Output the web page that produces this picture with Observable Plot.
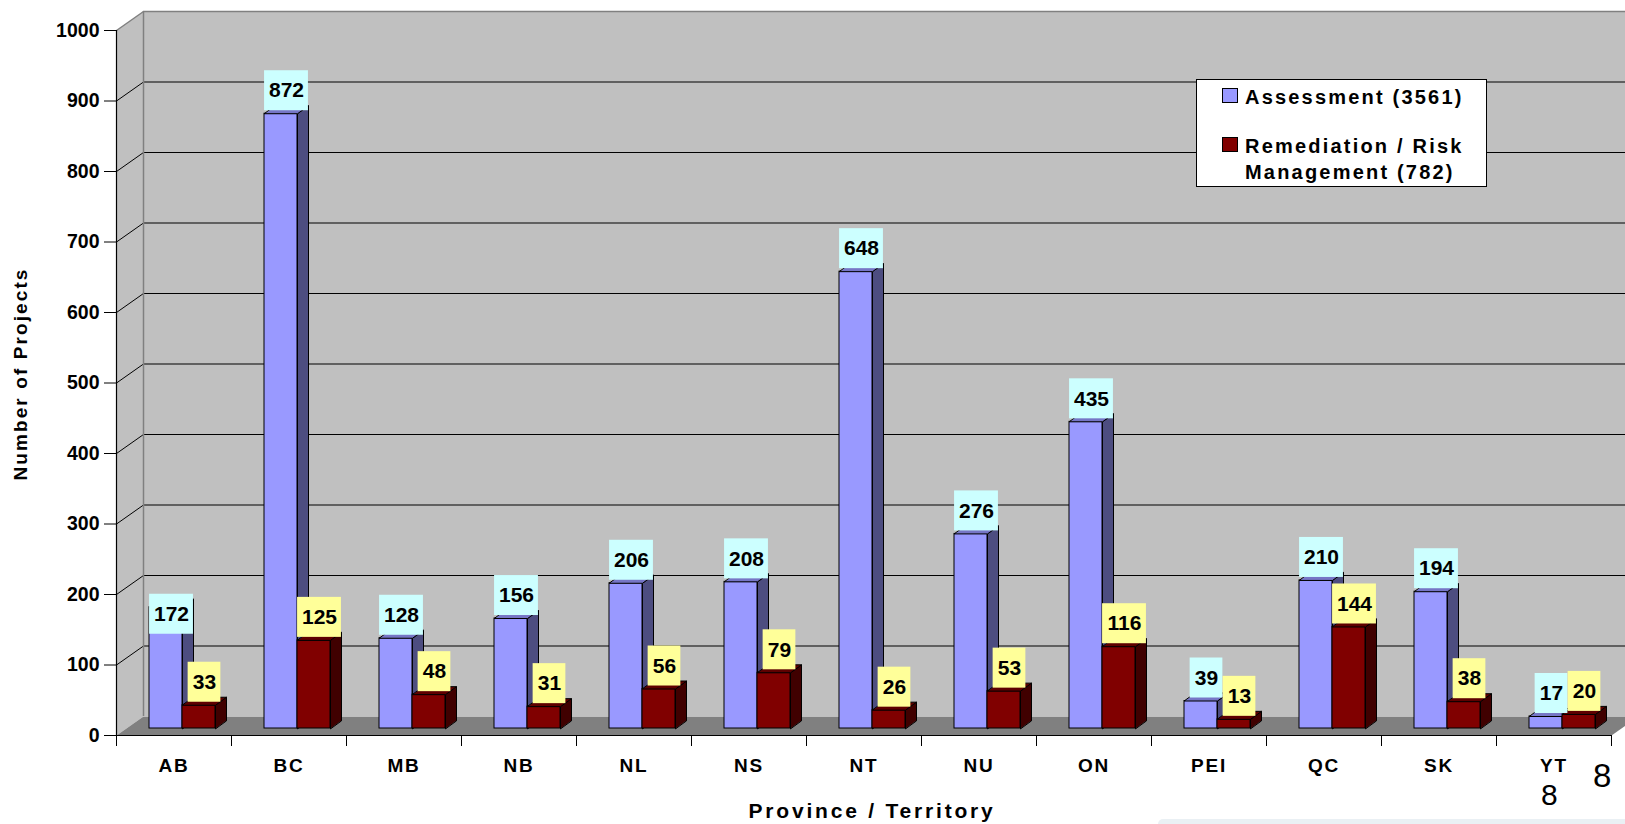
<!DOCTYPE html>
<html>
<head>
<meta charset="utf-8">
<script src="https://cdn.jsdelivr.net/npm/d3@7"></script>
<script src="https://cdn.jsdelivr.net/npm/@observablehq/plot@0.6"></script>
<style>
  html, body { margin: 0; padding: 0; background: #ffffff; }
  #wrap { position: relative; width: 1625px; height: 824px; overflow: hidden; font-family: Arial, "Liberation Sans", sans-serif; }
  #wrap svg { position: absolute; left: 0; top: 0; }
  .legend { position: absolute; left: 1196px; top: 79px; width: 289px; height: 106px; background: #fff; border: 1.5px solid #000; }
  .legend .sw { position: absolute; width: 16px; height: 15px; box-sizing: border-box; border: 1px solid #000; }
  .legend .lt { position: absolute; left: 48px; font-size: 20px; line-height: 20px; font-weight: bold; letter-spacing: 2.2px; white-space: nowrap; color: #000; }
  .artifact { position: absolute; font-weight: normal; line-height: 1; color: #000; }
  .band { position: absolute; left: 1158px; top: 819px; width: 467px; height: 5px; background: #eaf0f4; border-top-left-radius: 6px; }
</style>
</head>
<body>
<div id="wrap"></div>
<script>
// ---------------- data ----------------
const categories  = ["AB", "BC", "MB", "NB", "NL", "NS", "NT", "NU", "ON", "PEI", "QC", "SK", "YT"];
const assessment  = [172, 872, 128, 156, 206, 208, 648, 276, 435, 39, 210, 194, 17];
const remediation = [33, 125, 48, 31, 56, 79, 26, 53, 116, 13, 144, 38, 20];
const seriesNames = ["Assessment (3561)", "Remediation / Risk Management (782)"];
const yTicks      = [0, 100, 200, 300, 400, 500, 600, 700, 800, 900, 1000];
const yTitle      = "Number of Projects";
const xTitle      = "Province / Territory";

// ---------------- layout ----------------
const W = 1625, H = 824, ML = 116, MR = 14, MT = 30, MB = 89;
const KX = (W - ML - MR) / categories.length;   // px per category
const KY = (H - MT - MB) / 1000;                // px per unit
const ux = p => p / KX, uy = p => p / KY;       // pixel offsets -> data units
const DEPTH_X = 27, DEPTH_Y = 19;               // wall depth
const BAR_W = 33, SIDE_X = 11, SIDE_Y = 8, LIFT = 7, LABEL_GAP = 3, LABEL_H = 40;
const FONT = "Arial, 'Liberation Sans', sans-serif";

const series = [
  {name: seriesNames[0], key: "A", values: assessment,  off: 33, front: "#9999FF", side: "#4D4D80", top: "#7676C6", label: "#CCFFFF", center: 55},
  {name: seriesNames[1], key: "R", values: remediation, off: 66, front: "#800000", side: "#400000", top: "#5E0000", label: "#FFFF99", center: 88}
];
// the AB assessment label sits lower than the others in the source
const labelNudge = {"AB|A": -30};

function bars(s) {
  return s.values.map((v, i) => ({
    i, v, cat: categories[i], key: s.key,
    x1: i + ux(s.off), x2: i + ux(s.off + BAR_W)
  }));
}
function sideFaces(s) {
  return bars(s).flatMap(b => [
    [b.x2, 0], [b.x2, b.v], [b.x2 + ux(SIDE_X), b.v + uy(SIDE_Y)], [b.x2 + ux(SIDE_X), uy(SIDE_Y)]
  ].map(([x, y]) => ({id: b.i, x, y})));
}
function topFaces(s) {
  return bars(s).flatMap(b => [
    [b.x1, b.v], [b.x2, b.v], [b.x2 + ux(SIDE_X), b.v + uy(SIDE_Y)], [b.x1 + ux(SIDE_X), b.v + uy(SIDE_Y)]
  ].map(([x, y]) => ({id: b.i, x, y})));
}
function labels(s) {
  return bars(s).map(b => {
    const digits = String(b.v).length;
    const w = digits * 11.12 + 10.5;
    const nudge = labelNudge[b.cat + "|" + b.key] || 0;
    const base = b.v + uy(LABEL_GAP + nudge);
    return {
      text: String(b.v),
      x1: b.i + ux(s.center - w / 2), x2: b.i + ux(s.center + w / 2),
      xc: b.i + ux(s.center),
      y1: base, y2: base + uy(LABEL_H), yc: base + uy(LABEL_H / 2)
    };
  });
}

const n = categories.length;
const DX = ux(DEPTH_X), DY = uy(DEPTH_Y);
const leftWall = [[0, 0], [0, 1000], [DX, 1000 + DY], [DX, DY]].map(([x, y]) => ({x, y}));
const floor = [[0, 0], [n, 0], [n + DX, DY], [DX, DY]].map(([x, y]) => ({x, y}));
const innerTicks = yTicks.filter(t => t > 0 && t < 1000);

const marks = [
  // walls and floor
  Plot.rect([0], {x1: () => 0, x2: () => n + 1, y1: () => 0, y2: () => 1000, dx: DEPTH_X, dy: -DEPTH_Y, fill: "#C0C0C0"}),
  Plot.line(leftWall, {x: "x", y: "y", fill: "#C0C0C0", stroke: "none", curve: "linear-closed"}),
  Plot.line(floor, {x: "x", y: "y", fill: "#808080", stroke: "none", curve: "linear-closed"}),
  // gridlines: back wall and left wall
  Plot.ruleY(innerTicks, {x1: () => 0, x2: () => n + 1, dx: DEPTH_X, dy: -DEPTH_Y, stroke: "#000", strokeWidth: 1}),
  Plot.ruleY([1000], {x1: () => 0, x2: () => n + 1, dx: DEPTH_X, dy: -DEPTH_Y, stroke: "#808080", strokeWidth: 1.5}),
  Plot.link(innerTicks, {x1: () => 0, y1: d => d, x2: () => DX, y2: d => d + DY, stroke: "#000", strokeWidth: 1}),
  Plot.link([1000], {x1: () => 0, y1: d => d, x2: () => DX, y2: d => d + DY, stroke: "#808080", strokeWidth: 1.5}),
  Plot.ruleX([0], {y1: () => 0, y2: () => 1000, dx: DEPTH_X, dy: -DEPTH_Y, stroke: "#808080", strokeWidth: 1.5}),
];

for (const s of series) {
  marks.push(
    Plot.line(sideFaces(s), {x: "x", y: "y", z: "id", fill: s.side, stroke: "#000", strokeWidth: 1, strokeLinejoin: "miter", curve: "linear-closed", dy: -LIFT}),
    Plot.rect(bars(s), {x1: "x1", x2: "x2", y1: () => 0, y2: "v", dy: -LIFT, fill: s.front, stroke: "#000", strokeWidth: 1}),
    Plot.line(topFaces(s), {x: "x", y: "y", z: "id", fill: s.top, stroke: "#000", strokeWidth: 1, strokeLinejoin: "miter", curve: "linear-closed", dy: -LIFT})
  );
}
for (const s of series) {
  marks.push(
    Plot.rect(labels(s), {x1: "x1", x2: "x2", y1: "y1", y2: "y2", dy: -LIFT, fill: s.label}),
    Plot.text(labels(s), {x: "xc", y: "yc", text: "text", dy: -LIFT, fill: "#000", fontSize: 21, fontWeight: "bold", lineAnchor: "middle", textAnchor: "middle"})
  );
}

marks.push(
  // axis lines
  Plot.ruleX([0], {y1: () => 0, y2: () => 1000, stroke: "#000", strokeWidth: 1.2}),
  Plot.ruleY([0], {x1: () => 0, x2: () => n, stroke: "#000", strokeWidth: 1.2}),
  Plot.axisY({ticks: yTicks, tickSize: 12, tickPadding: 5, tickFormat: d => String(d), fontSize: 19.5, fontWeight: "bold", label: null, stroke: "#000", fill: "#000"}),
  Plot.axisX({ticks: d3.range(n + 1), tickSize: 11, tickFormat: () => "", label: null, stroke: "#000"}),
  Plot.axisX({ticks: categories.map((c, i) => i + 0.5), tickSize: 0, tickPadding: 23, tickFormat: d => categories[Math.floor(d)], fontSize: 19, fontWeight: "bold", label: null, fill: "#000"}),
  // axis titles
  Plot.text([yTitle], {x: () => 0, y: () => 500, text: d => d, rotate: -90, dx: -96, dy: -9, fontSize: 19, fontWeight: "bold", fill: "#000", lineAnchor: "middle", textAnchor: "middle"}),
  Plot.text([xTitle], {x: () => n / 2, y: () => 0, text: d => d, dx: 8, dy: 76, fontSize: 21, fontWeight: "bold", fill: "#000", lineAnchor: "middle", textAnchor: "middle"})
);

const chart = Plot.plot({
  width: W, height: H,
  marginLeft: ML, marginRight: MR, marginTop: MT, marginBottom: MB,
  x: {type: "linear", domain: [0, n]},
  y: {type: "linear", domain: [0, 1000]},
  style: {fontFamily: FONT, background: "transparent", color: "#000"},
  marks
});

// letter-spacing like the source rendering
d3.select(chart).selectAll('g[aria-label="x-axis tick label"] text').attr("letter-spacing", "1.8px");
d3.select(chart).selectAll("text").each(function () {
  const t = this.textContent;
  if (t === yTitle) this.setAttribute("letter-spacing", "2.1px");
  if (t === xTitle) this.setAttribute("letter-spacing", "2.8px");
});

const wrap = document.getElementById("wrap");
wrap.appendChild(chart);

// legend
const legend = document.createElement("div");
legend.className = "legend";
legend.innerHTML = `
  <div class="sw" style="left:25px;top:8px;background:${series[0].front}"></div>
  <div class="lt" style="top:7px">${seriesNames[0]}</div>
  <div class="sw" style="left:25px;top:57px;background:${series[1].front}"></div>
  <div class="lt" style="top:56px">Remediation / Risk</div>
  <div class="lt" style="top:82px">Management (782)</div>`;
wrap.appendChild(legend);

// stray slide marks at the lower right of the source
const a1 = document.createElement("div");
a1.className = "artifact"; a1.textContent = "8";
a1.style.cssText = "left:1541px;top:780px;font-size:30px;";
const a2 = document.createElement("div");
a2.className = "artifact"; a2.textContent = "8";
a2.style.cssText = "left:1593px;top:759px;font-size:33px;";
const band = document.createElement("div");
band.className = "band";
wrap.append(a1, a2, band);
</script>
</body>
</html>
